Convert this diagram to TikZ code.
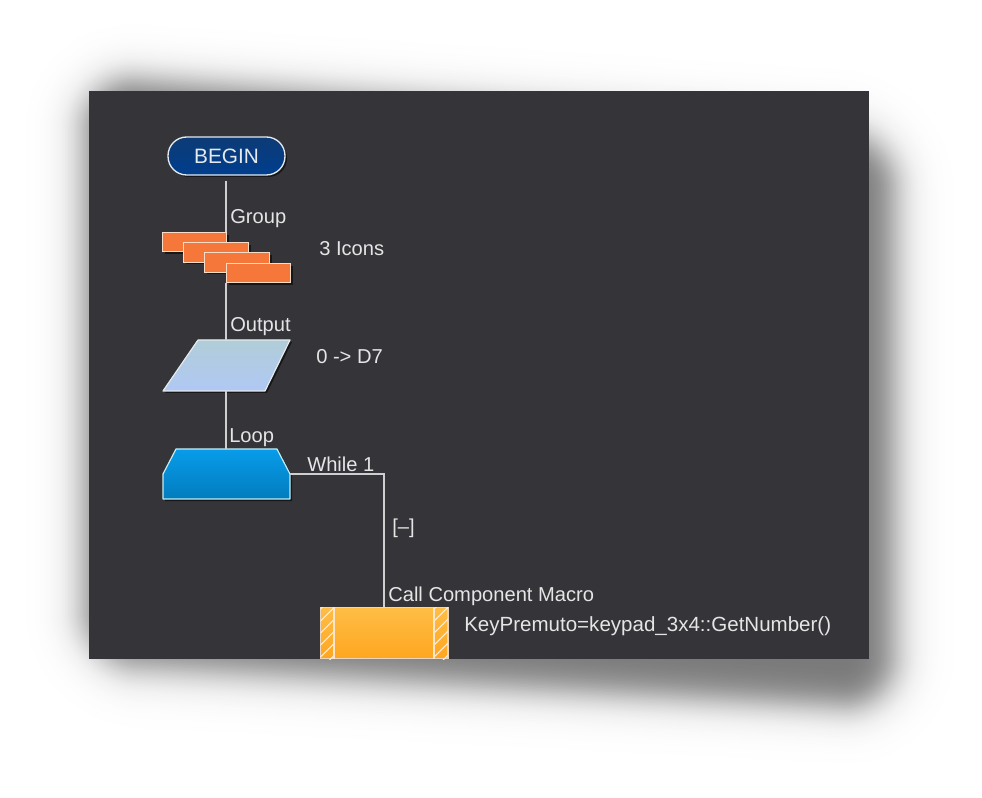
\documentclass[tikz,border=0pt]{standalone}
\usepackage{fontspec}
\setmainfont{Liberation Sans}
\usetikzlibrary{calc}
\definecolor{panel}{HTML}{353439}
\definecolor{wirecol}{HTML}{CFCFCF}
\definecolor{edgecol}{HTML}{E4EAEE}
\definecolor{grpfill}{HTML}{F5783A}
\definecolor{grpedge}{HTML}{F8DCC8}
\tikzset{
  x=0.75pt,y=-0.75pt,
  lbl/.style={inner sep=0pt,anchor=base west,text=white!90!black,font=\fontsize{15.1pt}{16pt}\selectfont},
  wire/.style={draw=wirecol,line width=1.1pt},
  grp/.style={draw=grpedge,line width=1pt,fill=grpfill,minimum width=48.4pt,minimum height=14.6pt,inner sep=0pt},
  dropdark/.style={fill=black,draw=none,opacity=.55},
}
% blurred quad, opaque grey rings from outside in:
% #1 logistic scale px, #2 peak % black, then TL, TR, BR, BL of its mid-line
\newcommand{\blurquad}[6]{%
  \foreach \k in {0,...,70}{%
    \pgfmathsetmacro{\br}{58-\k*1.5}%
    \pgfmathsetmacro{\bv}{#2/(1+exp(\br/#1))}%
    \pgfmathsetmacro{\bc}{max(\br+55,1)*0.75}%
    \fill[black!\bv!white,rounded corners=\bc pt]
      ($(#3)+(-\br,-\br)$) -- ($(#4)+(\br,-\br)$) -- ($(#5)+(\br,\br)$) -- ($(#6)+(-\br,\br)$) -- cycle;
  }%
}
\begin{document}
\begin{tikzpicture}
\useasboundingbox (0,0) rectangle (982,798);
\fill[white] (0,0) rectangle (982,798);
% blurred drop shadow
\blurquad{11}{53}{84,76}{895,135}{895,710}{84,664}
% panel
\fill[panel] (89,91) rectangle (869,659);
% BEGIN
\fill[black,opacity=.55,rounded corners=14pt] (170,139) rectangle (287,177);
\node[draw=edgecol,line width=1pt,rounded corners=14pt,minimum width=87.75pt,minimum height=28.5pt,inner sep=0pt,top color={rgb,255:red,13;green,59;blue,117},bottom color={rgb,255:red,0;green,62;blue,142},text=edgecol,font=\fontsize{15.6pt}{16pt}\selectfont] (begin) at (226.5,156) {BEGIN};
% group
\foreach \n/\x/\y in {g1/194.5/242,g2/216/252.5,g3/237/262.5,g4/258.5/273}{
  \fill[dropdark] ($(\x,\y)+(-30,-7)$) rectangle ($(\x,\y)+(34.5,12)$);
  \node[grp] (\n) at (\x,\y) {};
}
% output
\coordinate (outTL) at (198,340);
\coordinate (outTR) at (290,340);
\coordinate (outBR) at (265,391);
\coordinate (outBL) at (163,391);
\coordinate (outT) at (226.2,340);
\coordinate (outB) at (226.2,391);
\fill[dropdark] ($(outTL)+(2,2)$) -- ($(outTR)+(2,2)$) -- ($(outBR)+(2,2)$) -- ($(outBL)+(2,2)$) -- cycle;
\draw[draw=edgecol,line width=.9pt,top color={rgb,255:red,176;green,205;blue,216},bottom color={rgb,255:red,176;green,200;blue,244},line join=round] (outTL) -- (outTR) -- (outBR) -- (outBL) -- cycle;
% loop
\coordinate (loopT) at (226.2,449);
\coordinate (loopR) at (290,474);
\coordinate (loopTurn) at (384,474);
\fill[dropdark] (178,451) -- (279,451) -- (292,476) -- (292,501) -- (165,501) -- (165,476) -- cycle;
\draw[draw=edgecol!85!cyan,line width=.9pt,top color={rgb,255:red,8;green,156;blue,234},bottom color={rgb,255:red,2;green,124;blue,190},line join=round] (176,449) -- (277,449) -- (loopR) -- (290,499) -- (163,499) -- (163,474) -- cycle;
% macro
\coordinate (macroT) at (384,607);
\begin{scope}
\clip (320,607) rectangle (449,659);
\draw[draw=edgecol!80!orange,line width=1pt,top color={rgb,255:red,254;green,190;blue,70},bottom color={rgb,255:red,254;green,166;blue,32}] (320.5,607.5) rectangle (448,658.5);
\foreach \sx in {320.5,434}{
  \begin{scope}
    \clip (\sx,607.5) rectangle ++(14,52);
    \foreach \d in {0,12,...,72}{
      \draw[white!85!orange,line width=.8pt] ($(\sx,607)+(-10,\d)$) -- ++(35,-35);
    }
  \end{scope}
}
\draw[white!80!orange,line width=.8pt] (334,607.5) -- (334,659) (434,607.5) -- (434,659);
\end{scope}
% connectors
\draw[wire,shorten <=4pt] (begin.south -| outT) -- (g1.north -| outT);
\draw[wire] (g4.south -| outT) -- (outT);
\draw[wire] (outB) -- (loopT);
\draw[wire] (loopR) -- (loopTurn) -- (macroT);
% labels
\node[lbl] (tGroup) at (230,224) {Group};
\node[lbl] (tIcons) at (319,256) {3 Icons};
\node[lbl] (tOutput) at (230,332) {Output};
\node[lbl] (tD7) at (316,364) {0 -> D7};
\node[lbl] (tLoop) at (229,443) {Loop};
\node[lbl] (tWhile) at (307,472) {While 1};
\node[lbl] (tMinus) at (392,533) {[–]};
\node[lbl] (tCall) at (388,601) {Call Component Macro};
\node[lbl,font=\fontsize{15.4pt}{16pt}\selectfont] (tKey) at (464,631.5) {KeyPremuto=keypad\_3x4::GetNumber()};
\end{tikzpicture}
\end{document}
